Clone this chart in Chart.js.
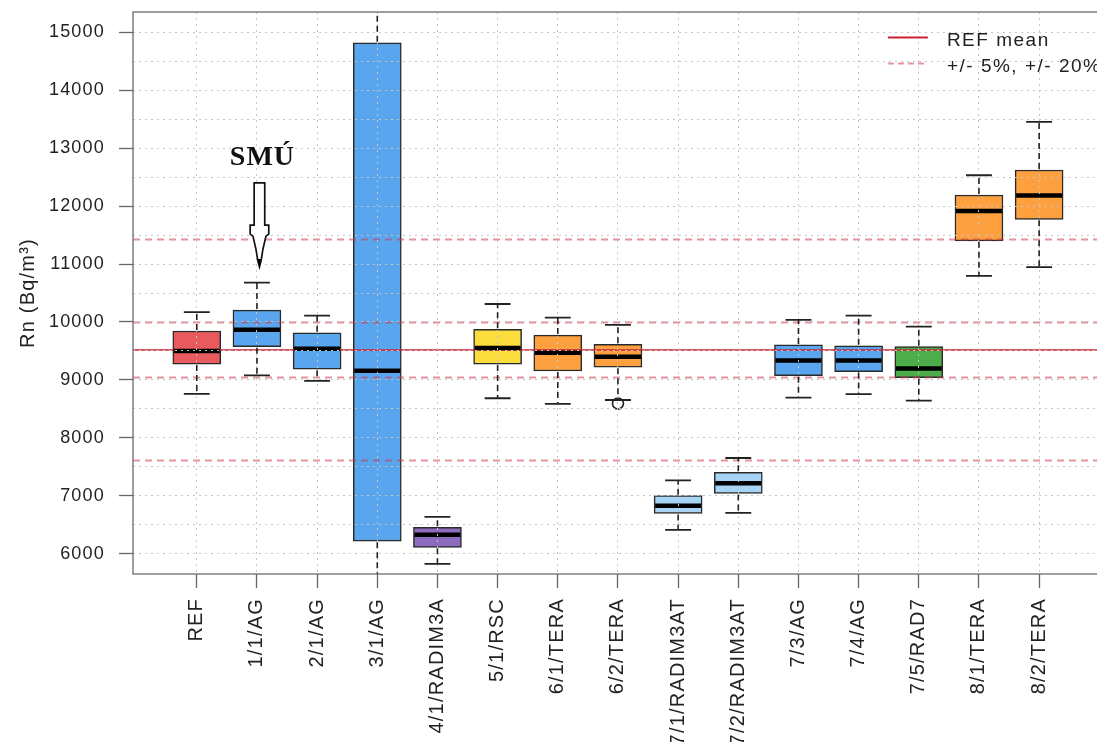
<!DOCTYPE html>
<html>
<head>
<meta charset="utf-8">
<script src="https://cdn.jsdelivr.net/npm/chart.js@4.4.1/dist/chart.umd.min.js"></script>
<style>
  html, body { margin: 0; padding: 0; overflow: hidden; background: #fff; width: 1097px; height: 742px; }
  canvas { display: block; }
</style>
</head>
<body>
<canvas id="chart" width="1110" height="742"></canvas>
<script>
// Radon concentration per participant / instrument
const labels = ['REF', '1/1/AG', '2/1/AG', '3/1/AG', '4/1/RADIM3A', '5/1/RSC', '6/1/TERA', '6/2/TERA',
                '7/1/RADIM3AT', '7/2/RADIM3AT', '7/3/AG', '7/4/AG', '7/5/RAD7', '8/1/TERA', '8/2/TERA'];
const whiskerLow  = [8760, 9080, 8985, 4800, 5830, 8685, 8590, 8655, 6415, 6710, 8695, 8755, 8645, 10795, 10945];
const q1          = [9275, 9575, 9185, 6220, 6115, 9275, 9155, 9220, 6700, 7045, 9075, 9145, 9040, 11400, 11770];
const median      = [9500, 9865, 9540, 9160, 6330, 9550, 9470, 9400, 6830, 7220, 9335, 9335, 9200, 11915, 12180];
const q3          = [9845, 10205, 9815, 14815, 6460, 9875, 9775, 9615, 7005, 7410, 9605, 9590, 9575, 12190, 12620];
const whiskerHigh = [10170, 10680, 10110, 16300, 6640, 10310, 10075, 9950, 7270, 7655, 10035, 10110, 9920, 12530, 13450];
const outliers    = [{ label: '6/2/TERA', value: 8595 }];
const boxColors   = ['#E95A5E', '#5AA6EE', '#5AA6EE', '#5AA6EE', '#8D6BBF', '#FCDD3E', '#FDA03F', '#FDA03F',
                     '#A7D3F5', '#A7D3F5', '#5AA6EE', '#5AA6EE', '#4CAD4A', '#FDA03F', '#FDA03F'];

// Reference level and tolerance bands
const refMean = 9517;
const bandPercents = [5, 20];

// Axis ticks
const yTickValues = [6000, 7000, 8000, 9000, 10000, 11000, 12000, 13000, 14000, 15000];
const yGridValues = [6000, 6500, 7000, 7500, 8000, 8500, 9000, 9500, 10000, 10500, 11000,
                     11500, 12000, 12500, 13000, 13500, 14000, 14500, 15000];

const xMin = -1.06;
const xMax = labels.length - 1 + 1.06;
const yMin = 5655;
const yMax = 15345;

const LETTER_SPACING = '1.2px';
const INK = '#222';
const MEAN_COLOR = '#CC2233';
const BAND_COLOR = 'rgba(205,60,80,0.55)';

const boxData = labels.map((_, i) => ({ x: i, y: [q1[i], q3[i]] }));
const outlierData = outliers.map(o => ({ x: labels.indexOf(o.label), y: o.value }));
const meanData = [{ x: xMin, y: refMean }, { x: xMax, y: refMean }];
const bandData = [];
bandPercents.forEach(p => {
  [1 + p / 100, 1 - p / 100].forEach(f => {
    bandData.push({ x: xMin, y: refMean * f }, { x: xMax, y: refMean * f }, { x: xMax, y: null });
  });
});

// Canvas text spacing (state is reset whenever the canvas is resized)
const spacingPlugin = {
  id: 'spacing',
  beforeUpdate(chart) { chart.ctx.letterSpacing = LETTER_SPACING; },
  beforeLayout(chart) { chart.ctx.letterSpacing = LETTER_SPACING; },
  beforeDraw(chart) { chart.ctx.letterSpacing = LETTER_SPACING; }
};

// Medians of each box (drawn over the box fill)
const medianPlugin = {
  id: 'medians',
  afterDatasetsDraw(chart) {
    const { ctx, scales: { y } } = chart;
    const bars = chart.getDatasetMeta(0).data;
    ctx.save();
    ctx.strokeStyle = '#000';
    ctx.lineWidth = 4.5;
    bars.forEach((bar, i) => {
      const py = y.getPixelForValue(median[i]);
      ctx.beginPath();
      ctx.moveTo(bar.x - bar.width / 2 + 1, py);
      ctx.lineTo(bar.x + bar.width / 2 - 1, py);
      ctx.stroke();
    });
    ctx.restore();
  }
};

// Whiskers and caps, plot frame, legend and the SMÚ marker
const decorPlugin = {
  id: 'decor',
  afterDraw(chart) {
    const { ctx, chartArea, scales: { x, y } } = chart;
    const bars = chart.getDatasetMeta(0).data;
    ctx.save();

    // whiskers (clipped to the plot area)
    ctx.save();
    ctx.beginPath();
    ctx.rect(chartArea.left, chartArea.top, chartArea.right - chartArea.left, chartArea.bottom - chartArea.top);
    ctx.clip();
    ctx.strokeStyle = INK;
    bars.forEach((bar, i) => {
      const cx = bar.x;
      const capHalf = bar.width * 0.27;
      ctx.lineWidth = 1.6;
      ctx.setLineDash([6, 4]);
      ctx.beginPath();
      ctx.moveTo(cx, y.getPixelForValue(q3[i]) - 1);
      ctx.lineTo(cx, y.getPixelForValue(whiskerHigh[i]));
      ctx.moveTo(cx, y.getPixelForValue(q1[i]) + 1);
      ctx.lineTo(cx, y.getPixelForValue(whiskerLow[i]));
      ctx.stroke();
      ctx.setLineDash([]);
      ctx.lineWidth = 1.8;
      ctx.beginPath();
      [whiskerHigh[i], whiskerLow[i]].forEach(v => {
        const py = y.getPixelForValue(v);
        ctx.moveTo(cx - capHalf, py);
        ctx.lineTo(cx + capHalf, py);
      });
      ctx.stroke();
    });
    ctx.restore();

    // frame
    ctx.strokeStyle = '#6a6a6a';
    ctx.lineWidth = 1.3;
    ctx.strokeRect(chartArea.left, chartArea.top, chartArea.right - chartArea.left, chartArea.bottom - chartArea.top);

    // legend
    const lx = chartArea.right - 215;
    const items = [
      { text: 'REF mean', color: MEAN_COLOR, width: 1.8, dash: [], y: chartArea.top + 25.5 },
      { text: '+/- 5%, +/- 20%', color: BAND_COLOR, width: 2, dash: [6, 4], y: chartArea.top + 51.5 }
    ];
    ctx.letterSpacing = '1.5px';
    ctx.font = '19px "Liberation Sans", Arial, sans-serif';
    ctx.textBaseline = 'middle';
    ctx.textAlign = 'left';
    items.forEach(it => {
      ctx.strokeStyle = it.color;
      ctx.lineWidth = it.width;
      ctx.setLineDash(it.dash);
      ctx.beginPath();
      ctx.moveTo(lx, it.y);
      ctx.lineTo(lx + 40, it.y);
      ctx.stroke();
      ctx.setLineDash([]);
      ctx.fillStyle = INK;
      ctx.fillText(it.text, lx + 59, it.y + 3);
    });

    // SMÚ label with arrow pointing at 1/1/AG
    const ax = x.getPixelForValue(1) + 2.5;
    ctx.fillStyle = '#111';
    ctx.font = 'bold 28px "Liberation Serif", "Times New Roman", serif';
    ctx.textAlign = 'center';
    ctx.textBaseline = 'alphabetic';
    ctx.letterSpacing = '1px';
    ctx.fillText('SMÚ', ax + 3, y.getPixelForValue(12700));

    const top = y.getPixelForValue(12400);
    const neck = y.getPixelForValue(11670);
    const tip = y.getPixelForValue(10950);
    const pts = [
      [-5.3, top], [5.3, top], [5.3, neck], [9.3, neck], [9.3, neck + 9], [6.5, neck + 11],
      [3.5, neck + 24], [1.6, tip - 6], [0, tip], [-1.6, tip - 6], [-3.5, neck + 24],
      [-6.5, neck + 11], [-9.3, neck + 9], [-9.3, neck], [-5.3, neck]
    ];
    ctx.beginPath();
    pts.forEach(([dx, py], k) => (k ? ctx.lineTo(ax + dx, py) : ctx.moveTo(ax + dx, py)));
    ctx.closePath();
    ctx.fillStyle = '#fff';
    ctx.fill();
    ctx.strokeStyle = '#111';
    ctx.lineWidth = 1.7;
    ctx.stroke();
    ctx.beginPath();
    ctx.moveTo(ax - 1.8, tip - 8);
    ctx.lineTo(ax + 1.8, tip - 8);
    ctx.lineTo(ax, tip);
    ctx.closePath();
    ctx.fillStyle = '#000';
    ctx.fill();
    ctx.restore();
  }
};

Chart.defaults.font.family = '"Liberation Sans", Arial, sans-serif';
Chart.defaults.font.size = 18;
Chart.defaults.color = INK;

new Chart(document.getElementById('chart'), {
  data: {
    datasets: [
      {
        type: 'bar',
        label: 'boxes',
        data: boxData,
        backgroundColor: boxColors,
        borderColor: '#2a2a2a',
        borderWidth: 1.5,
        borderSkipped: false,
        barThickness: 48,
        order: 2
      },
      {
        type: 'scatter',
        label: 'outliers',
        data: outlierData,
        pointStyle: 'circle',
        pointRadius: 5.5,
        pointBorderWidth: 1.6,
        borderColor: INK,
        backgroundColor: 'rgba(0,0,0,0)',
        order: 1
      },
      {
        type: 'line',
        label: 'REF mean',
        data: meanData,
        borderColor: MEAN_COLOR,
        borderWidth: 1.6,
        pointRadius: 0,
        order: 0
      },
      {
        type: 'line',
        label: '+/- 5%, +/- 20%',
        data: bandData,
        borderColor: BAND_COLOR,
        borderWidth: 2,
        borderDash: [7, 5],
        pointRadius: 0,
        spanGaps: false,
        order: 0
      }
    ]
  },
  options: {
    responsive: false,
    animation: false,
    devicePixelRatio: 1,
    layout: { padding: { top: 12, right: 3, left: 0, bottom: 0 } },
    plugins: { legend: { display: false }, tooltip: { enabled: false } },
    scales: {
      x: {
        type: 'linear',
        offset: false,
        min: xMin,
        max: xMax,
        afterBuildTicks: s => { s.ticks = labels.map((_, i) => ({ value: i })); },
        afterFit: s => { s.height = 168; s.paddingLeft = 0; s.paddingRight = 0; },
        ticks: {
          callback: v => (Number.isInteger(v) && labels[v] !== undefined ? labels[v] : ''),
          autoSkip: false,
          minRotation: 90,
          maxRotation: 90,
          padding: 10,
          color: INK,
          font: { size: 20 }
        },
        grid: { offset: false, z: 1, color: '#c6c6c6', lineWidth: 1, tickColor: '#666', tickLength: 14, tickWidth: 1.3 },
        border: { display: false, dash: [2, 4] }
      },
      y: {
        type: 'linear',
        min: yMin,
        max: yMax,
        afterBuildTicks: s => { s.ticks = yGridValues.map(v => ({ value: v })); },
        afterFit: s => { s.width = 133; s.paddingTop = 0; s.paddingBottom = 0; },
        ticks: {
          callback: v => (yTickValues.includes(v) ? String(v) : ''),
          autoSkip: false,
          padding: 14,
          color: INK,
          font: { size: 18 }
        },
        grid: {
          z: 1,
          color: '#c6c6c6',
          lineWidth: 1,
          tickLength: 14,
          tickWidth: 1.3,
          tickColor: c => (c.tick && yTickValues.includes(c.tick.value) ? '#666' : 'rgba(0,0,0,0)')
        },
        border: { display: false, dash: [2, 4] },
        title: {
          display: true,
          text: 'Rn (Bq/m³)',
          color: INK,
          font: { size: 20 },
          padding: { top: 16, bottom: 0 }
        }
      }
    }
  },
  plugins: [spacingPlugin, medianPlugin, decorPlugin]
});
</script>
</body>
</html>
